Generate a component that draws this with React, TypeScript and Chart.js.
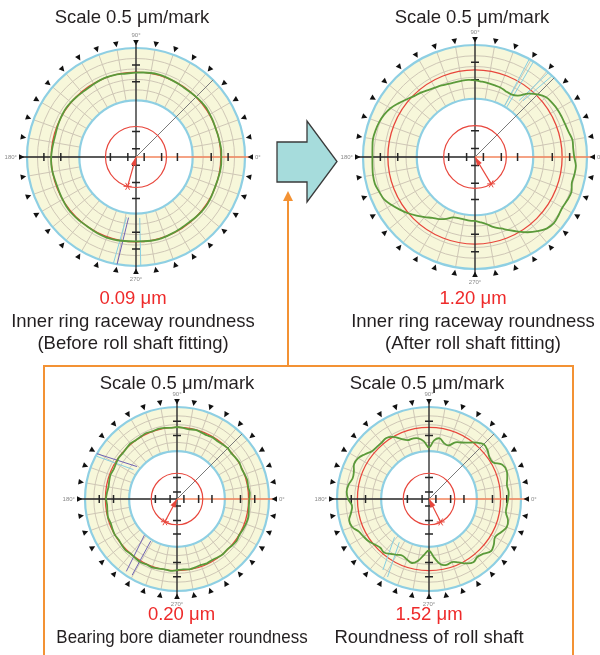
import React, { useEffect, useRef } from "react";
import { Chart, registerables } from "chart.js";

Chart.register(...registerables);

// Measurement angles, degrees counter-clockwise from 0°
const ANGLES_DEG = [
  0, 5, 10, 15, 20, 25, 30, 35, 40, 45, 50, 55,
  60, 65, 70, 75, 80, 85, 90, 95, 100, 105, 110, 115,
  120, 125, 130, 135, 140, 145, 150, 155, 160, 165, 170, 175,
  180, 185, 190, 195, 200, 205, 210, 215, 220, 225, 230, 235,
  240, 245, 250, 255, 260, 265, 270, 275, 280, 285, 290, 295,
  300, 305, 310, 315, 320, 325, 330, 335, 340, 345, 350, 355,
];

// Radial deviation from the reference circle (μm) at each angle
const PROFILE_BEFORE_FITTING = [
  0.02, 0.03, 0.01, 0.0, -0.01, 0.01, 0.02, 0.04, 0.03, 0.01, -0.01, -0.02,
  -0.01, 0.0, 0.02, 0.03, 0.02, 0.0, -0.02, -0.03, -0.02, 0.0, 0.01, 0.0,
  -0.02, -0.04, -0.03, -0.01, 0.01, 0.02, 0.01, -0.01, -0.03, -0.05, -0.04, -0.02,
  0.0, 0.01, 0.0, -0.02, -0.03, -0.02, 0.0, 0.02, 0.03, 0.02, 0.01, 0.0,
  0.01, 0.03, 0.04, 0.03, 0.01, -0.01, -0.02, -0.01, 0.01, 0.02, 0.01, -0.01,
  -0.02, -0.03, -0.02, 0.0, 0.02, 0.03, 0.02, 0.0, -0.01, 0.0, 0.02, 0.03,
];

const PROFILE_AFTER_FITTING = [
  0.36, 0.34, 0.35, 0.29, 0.26, 0.25, 0.24, 0.21, 0.17, 0.04, -0.13, -0.36,
  -0.44, -0.43, -0.39, -0.38, -0.36, -0.34, -0.31, -0.29, -0.29, -0.29, -0.28, -0.24,
  -0.21, -0.16, -0.09, -0.03, 0.07, 0.19, 0.31, 0.39, 0.44, 0.47, 0.49, 0.47,
  0.46, 0.47, 0.49, 0.49, 0.44, 0.39, 0.27, 0.14, 0.01, -0.13, -0.26, -0.38,
  -0.46, -0.56, -0.68, -0.71, -0.71, -0.69, -0.69, -0.64, -0.56, -0.43, -0.33, -0.19,
  -0.03, 0.14, 0.29, 0.42, 0.47, 0.44, 0.41, 0.44, 0.46, 0.39, 0.41, 0.42,
];

const PROFILE_BEARING_BORE = [
  0.04, 0.07, 0.03, 0.06, 0.02, -0.01, 0.03, 0.0, -0.03, 0.01, -0.02, -0.05,
  -0.02, -0.06, -0.03, 0.0, -0.04, -0.01, 0.02, -0.01, 0.03, 0.05, 0.02, 0.06,
  0.03, 0.01, 0.04, 0.0, -0.03, -0.01, -0.05, -0.08, -0.04, -0.07, -0.1, -0.06,
  -0.03, -0.07, -0.04, -0.01, -0.05, -0.02, 0.01, -0.02, 0.02, 0.05, 0.01, 0.04,
  0.07, 0.03, 0.06, 0.02, -0.01, 0.03, -0.02, -0.05, -0.01, -0.04, -0.07, -0.03,
  -0.06, -0.02, 0.01, -0.02, 0.03, 0.06, 0.02, 0.05, 0.08, 0.1, 0.06, 0.03,
];

const PROFILE_ROLL_SHAFT = [
  0.37, 0.41, 0.37, 0.46, 0.54, 0.46, 0.1, 0.1, 0.23, 0.28, 0.1, -0.13,
  -0.31, -0.44, -0.71, -0.67, -0.49, -0.62, -0.98, -0.67, -0.49, -0.44, -0.44, -0.26,
  0.01, 0.14, 0.1, 0.1, 0.14, 0.32, 0.5, 0.54, 0.41, 0.37, 0.5, 0.54,
  0.46, 0.28, 0.37, 0.54, 0.5, 0.28, 0.19, 0.1, -0.04, -0.13, -0.08, -0.22,
  -0.35, -0.44, -0.35, -0.26, -0.44, -0.76, -0.98, -0.62, -0.26, -0.17, -0.22, -0.08,
  0.14, 0.28, 0.19, 0.28, 0.46, 0.37, 0.23, 0.37, 0.54, 0.5, 0.32, 0.32,
];

// Roundness (peak-to-valley) of each profile, μm
const ROUNDNESS_UM = [0.09, 1.2, 0.2, 1.52];

// Direction of the eccentricity pointer, degrees
const POINTER_DEG = [254, 301, 242, 297];

const SCALE_LABEL = "Scale 0.5 μm/mark";
const CAPTION_BEFORE = ["Inner ring raceway roundness", "(Before roll shaft fitting)"];
const CAPTION_AFTER = ["Inner ring raceway roundness", "(After roll shaft fitting)"];
const CAPTION_BORE = ["Bearing bore diameter roundness"];
const CAPTION_SHAFT = ["Roundness of roll shaft"];
const AXIS_LABELS: [number, string][] = [
  [0, "0°"],
  [90, "90°"],
  [180, "180°"],
  [270, "270°"],
];

// Dial geometry, as fractions of the outer radius
const REF_FRAC = 0.778;
const RING_FRACS = [0.52, 0.616, 0.712, 0.808, 0.904, 1];
const HUB_FRAC = 0.28;
const AXIS_MARKS = [0.075, 0.235, 0.69, 0.845];
const AXIS_MARK_EXTRA = 0.38;
const PAD = 24;

const COLORS = {
  ring: "#f7f7da",
  grid: "#cfc7b6",
  blue: "#8ecfe3",
  red: "#e8463c",
  green: "#5b9a3a",
  axis: "#262626",
  axisZero: "#f2845c",
  guide: "#7a7a7a",
  cyan: "#86cfe2",
  purple: "#6f63b4",
  text: "#231f20",
  value: "#ee2a2a",
  orange: "#f39234",
  arrow: "#a6dcdc",
  degree: "#8a8a8a",
};

const FONT = '"Liberation Sans", Arial, Helvetica, sans-serif';

type Marker = [number, number, number, number, string];

function polar(cx: number, cy: number, r: number, deg: number): [number, number] {
  const a = (deg * Math.PI) / 180;
  return [cx + r * Math.cos(a), cy - r * Math.sin(a)];
}

function makeDialPlugin(pointerDeg: number, markers: Marker[]) {
  return {
    id: "dial",
    beforeDraw(chart: any) {
      const s = chart.scales.r;
      const cx = s.xCenter;
      const cy = s.yCenter;
      const R = s.drawingArea;
      const ctx = chart.ctx as CanvasRenderingContext2D;
      ctx.save();
      ctx.fillStyle = COLORS.ring;
      ctx.beginPath();
      ctx.arc(cx, cy, R, 0, Math.PI * 2);
      ctx.fill();
      ctx.fillStyle = "#ffffff";
      ctx.beginPath();
      ctx.arc(cx, cy, R * RING_FRACS[0], 0, Math.PI * 2);
      ctx.fill();
      // radial grid inside the band
      ctx.strokeStyle = COLORS.grid;
      ctx.lineWidth = 1;
      ctx.beginPath();
      for (let a = 0; a < 360; a += 10) {
        const [x1, y1] = polar(cx, cy, R * RING_FRACS[0], a);
        const [x2, y2] = polar(cx, cy, R, a);
        ctx.moveTo(x1, y1);
        ctx.lineTo(x2, y2);
      }
      ctx.stroke();
      ctx.restore();
    },
    beforeDatasetsDraw(chart: any) {
      const s = chart.scales.r;
      const cx = s.xCenter;
      const cy = s.yCenter;
      const R = s.drawingArea;
      const ctx = chart.ctx as CanvasRenderingContext2D;
      ctx.save();

      // selection markers in the band
      ctx.lineWidth = 1;
      for (const [a1, r1, a2, r2, color] of markers) {
        const [x1, y1] = polar(cx, cy, R * r1, a1);
        const [x2, y2] = polar(cx, cy, R * r2, a2);
        ctx.strokeStyle = color;
        ctx.beginPath();
        ctx.moveTo(x1, y1);
        ctx.lineTo(x2, y2);
        ctx.stroke();
      }

      // 45° guide
      ctx.strokeStyle = COLORS.guide;
      ctx.lineWidth = 1;
      const [gx, gy] = polar(cx, cy, R, 45);
      ctx.beginPath();
      ctx.moveTo(cx, cy);
      ctx.lineTo(gx, gy);
      ctx.stroke();

      // axes
      const ext = R + 5;
      ctx.lineWidth = 1.3;
      ctx.strokeStyle = COLORS.axis;
      ctx.beginPath();
      ctx.moveTo(cx, cy - ext);
      ctx.lineTo(cx, cy + ext);
      ctx.moveTo(cx - ext, cy);
      ctx.lineTo(cx, cy);
      ctx.stroke();
      ctx.strokeStyle = COLORS.axisZero;
      ctx.beginPath();
      ctx.moveTo(cx, cy);
      ctx.lineTo(cx + ext, cy);
      ctx.stroke();

      // scale marks on the axes
      ctx.strokeStyle = COLORS.axis;
      ctx.lineWidth = 1.5;
      ctx.beginPath();
      for (const dir of [0, 90, 180, 270]) {
        const fracs = dir === 0 || dir === 270 ? [...AXIS_MARKS, AXIS_MARK_EXTRA] : AXIS_MARKS;
        for (const f of fracs) {
          const [x, y] = polar(cx, cy, R * f, dir);
          if (dir === 0 || dir === 180) {
            ctx.moveTo(x, y - 4);
            ctx.lineTo(x, y + 4);
          } else {
            ctx.moveTo(x - 4, y);
            ctx.lineTo(x + 4, y);
          }
        }
      }
      ctx.stroke();

      // eccentricity circle and pointer
      ctx.strokeStyle = COLORS.red;
      ctx.lineWidth = 1.2;
      ctx.beginPath();
      ctx.arc(cx, cy, R * HUB_FRAC, 0, Math.PI * 2);
      ctx.stroke();
      const [px, py] = polar(cx, cy, R * HUB_FRAC, pointerDeg);
      ctx.beginPath();
      ctx.moveTo(cx, cy);
      ctx.lineTo(px, py);
      ctx.stroke();
      ctx.lineWidth = 1;
      ctx.beginPath();
      for (const a of [0, 60, 120]) {
        const [ax, ay] = polar(px, py, 4, a);
        const [bx, by] = polar(px, py, 4, a + 180);
        ctx.moveTo(ax, ay);
        ctx.lineTo(bx, by);
      }
      ctx.stroke();
      const [t1x, t1y] = polar(cx, cy, 9, pointerDeg - 18);
      const [t2x, t2y] = polar(cx, cy, 9, pointerDeg + 18);
      ctx.fillStyle = COLORS.red;
      ctx.beginPath();
      ctx.moveTo(cx, cy);
      ctx.lineTo(t1x, t1y);
      ctx.lineTo(t2x, t2y);
      ctx.closePath();
      ctx.fill();

      // index triangles around the rim
      ctx.fillStyle = "#111111";
      for (let a = 0; a < 360; a += 10) {
        const [tx, ty] = polar(cx, cy, R + 2.5, a);
        const [bx, by] = polar(cx, cy, R + 8, a);
        const rad = (a * Math.PI) / 180;
        const nx = Math.sin(rad) * 2.8;
        const ny = Math.cos(rad) * 2.8;
        ctx.beginPath();
        ctx.moveTo(tx, ty);
        ctx.lineTo(bx + nx, by + ny);
        ctx.lineTo(bx - nx, by - ny);
        ctx.closePath();
        ctx.fill();
      }

      // angle labels
      ctx.fillStyle = COLORS.degree;
      ctx.font = `6px ${FONT}`;
      for (const [a, text] of AXIS_LABELS) {
        const [lx, ly] = polar(cx, cy, R + 10, a);
        ctx.textAlign = a === 0 ? "left" : a === 180 ? "right" : "center";
        ctx.textBaseline = a === 90 ? "bottom" : a === 270 ? "top" : "middle";
        ctx.fillText(text, lx, ly);
      }
      ctx.restore();
    },
  };
}

interface DialProps {
  profile: number[];
  span: number;
  cx: number;
  cy: number;
  radius: number;
  tension: number;
  pointerDeg: number;
  markers: Marker[];
}

function Dial({ profile, span, cx, cy, radius, tension, pointerDeg, markers }: DialProps) {
  const ref = useRef<HTMLCanvasElement>(null);
  const size = 2 * radius + 2 * PAD;

  useEffect(() => {
    if (!ref.current) return;
    const n = ANGLES_DEG.length;
    // radar runs clockwise from its start angle; walk the angles backwards
    const order = ANGLES_DEG.map((_, i) => (n - i) % n);
    const labels = order.map((k) => `${ANGLES_DEG[k]}°`);
    const data = order.map((k) => profile[k]);

    const min = -REF_FRAC * span;
    const max = (1 - REF_FRAC) * span;
    const rings = RING_FRACS.map((f, i) => ({
      value: min + f * span,
      color: i === 0 || i === RING_FRACS.length - 1 ? COLORS.blue : COLORS.grid,
      width: i === 0 || i === RING_FRACS.length - 1 ? 2.2 : 1,
    }));
    const circles = [
      { value: min, color: "rgba(0,0,0,0)", width: 0 },
      ...rings,
      { value: 0, color: COLORS.red, width: 1.3 },
    ];

    const chart = new Chart(ref.current, {
      type: "radar",
      data: {
        labels,
        datasets: [
          {
            data,
            borderColor: COLORS.green,
            borderWidth: 1.8,
            pointRadius: 0,
            pointHitRadius: 0,
            fill: false,
            tension,
          },
        ],
      },
      options: {
        responsive: false,
        animation: false,
        layout: { padding: PAD },
        plugins: {
          legend: { display: false },
          tooltip: { enabled: false },
          title: { display: false },
        },
        scales: {
          r: {
            min,
            max,
            startAngle: 90,
            ticks: { display: false },
            pointLabels: { display: false },
            angleLines: { display: false },
            grid: {
              circular: true,
              color: (c: any) => circles[c.index]?.color ?? "rgba(0,0,0,0)",
              lineWidth: (c: any) => circles[c.index]?.width ?? 0,
            },
            afterBuildTicks: (scale: any) => {
              scale.ticks = circles.map((c) => ({ value: c.value }));
            },
          },
        },
      } as any,
      plugins: [makeDialPlugin(pointerDeg, markers)],
    });
    return () => chart.destroy();
  }, [profile, span, tension, pointerDeg, markers]);

  return (
    <canvas
      ref={ref}
      width={size}
      height={size}
      style={{
        position: "absolute",
        left: cx - size / 2,
        top: cy - size / 2,
        width: size,
        height: size,
      }}
    />
  );
}

function Label({
  x,
  y,
  text,
  color,
  squeeze,
}: {
  x: number;
  y: number;
  text: string;
  color?: string;
  squeeze?: number;
}) {
  return (
    <div
      style={{
        position: "absolute",
        left: x,
        top: y,
        transform: `translate(-50%, -50%)${squeeze ? ` scaleX(${squeeze})` : ""}`,
        whiteSpace: "nowrap",
        fontFamily: FONT,
        fontSize: 18.5,
        lineHeight: "22px",
        color: color ?? COLORS.text,
      }}
    >
      {text}
    </div>
  );
}

const PANELS = [
  {
    profile: PROFILE_BEFORE_FITTING,
    roundness: ROUNDNESS_UM[0],
    pointerDeg: POINTER_DEG[0],
    captions: CAPTION_BEFORE,
    span: 4.5,
    tension: 0.2,
    cx: 136,
    cy: 157,
    radius: 109,
    headX: 132,
    headY: 17,
    textX: 133,
    valueY: 298,
    squeeze: 0,
    markers: [
      [263, 0.56, 260, 1.0, COLORS.purple],
      [261, 0.56, 258, 1.0, COLORS.cyan],
      [273.5, 0.56, 272.5, 1.0, COLORS.cyan],
    ] as Marker[],
  },
  {
    profile: PROFILE_AFTER_FITTING,
    roundness: ROUNDNESS_UM[1],
    pointerDeg: POINTER_DEG[1],
    captions: CAPTION_AFTER,
    span: 3.33,
    tension: 0.35,
    cx: 475,
    cy: 157,
    radius: 112,
    headX: 472,
    headY: 17,
    textX: 473,
    valueY: 298,
    squeeze: 0,
    markers: [
      [57.5, 0.53, 58.5, 1.0, COLORS.cyan],
      [60, 0.53, 61, 1.0, COLORS.cyan],
      [49.5, 0.66, 46.5, 1.0, COLORS.cyan],
      [52, 0.64, 49, 1.0, COLORS.cyan],
    ] as Marker[],
  },
  {
    profile: PROFILE_BEARING_BORE,
    roundness: ROUNDNESS_UM[2],
    pointerDeg: POINTER_DEG[2],
    captions: CAPTION_BORE,
    span: 4.5,
    tension: 0.15,
    cx: 177,
    cy: 499,
    radius: 92,
    headX: 177,
    headY: 383,
    textX: 181.5,
    valueY: 614,
    squeeze: 0.915,
    markers: [
      [228, 0.53, 235, 0.96, COLORS.purple],
      [238, 0.54, 239.5, 0.96, COLORS.purple],
      [146, 0.57, 152, 0.99, COLORS.cyan],
      [141, 0.56, 150.5, 1.0, COLORS.purple],
    ] as Marker[],
  },
  {
    profile: PROFILE_ROLL_SHAFT,
    roundness: ROUNDNESS_UM[3],
    pointerDeg: POINTER_DEG[3],
    captions: CAPTION_SHAFT,
    span: 4.5,
    tension: 0.4,
    cx: 429,
    cy: 499,
    radius: 92,
    headX: 427,
    headY: 383,
    textX: 429,
    valueY: 614,
    squeeze: 0,
    markers: [
      [228, 0.56, 237, 0.92, COLORS.cyan],
      [235.5, 0.57, 242, 0.96, COLORS.cyan],
    ] as Marker[],
  },
];

export default function App() {
  return (
    <div
      style={{
        position: "fixed",
        left: 0,
        top: 0,
        width: 600,
        height: 655,
        background: "#ffffff",
        overflow: "hidden",
      }}
    >
      <svg width={600} height={655} style={{ position: "absolute", left: 0, top: 0 }}>
        <polygon
          points="277,142 307,142 307,121 337,161.5 307,202 307,182 277,182"
          fill={COLORS.arrow}
          stroke="#3a3a3a"
          strokeWidth={1.3}
          strokeLinejoin="miter"
        />
        <line x1={288} y1={199} x2={288} y2={367} stroke={COLORS.orange} strokeWidth={2} />
        <polygon points="288,191 283,201 293,201" fill={COLORS.orange} />
        <rect x={44} y={366} width={529} height={330} fill="none" stroke={COLORS.orange} strokeWidth={2} />
      </svg>
      {PANELS.map((p, i) => (
        <Dial
          key={i}
          profile={p.profile}
          span={p.span}
          cx={p.cx}
          cy={p.cy}
          radius={p.radius}
          tension={p.tension}
          pointerDeg={p.pointerDeg}
          markers={p.markers}
        />
      ))}
      {PANELS.map((p, i) => (
        <React.Fragment key={`t${i}`}>
          <Label x={p.headX} y={p.headY} text={SCALE_LABEL} />
          <Label x={p.textX} y={p.valueY} text={`${p.roundness.toFixed(2)} μm`} color={COLORS.value} />
          {p.captions.map((c, j) => (
            <Label
              key={j}
              x={p.textX}
              y={p.valueY + 23 + j * 22}
              text={c}
              squeeze={p.squeeze || undefined}
            />
          ))}
        </React.Fragment>
      ))}
    </div>
  );
}
